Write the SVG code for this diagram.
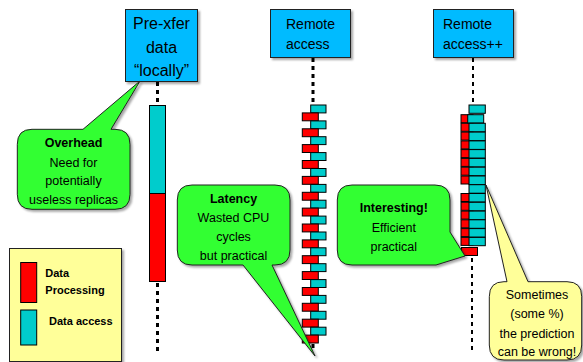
<svg xmlns="http://www.w3.org/2000/svg" width="583" height="362" viewBox="0 0 583 362">
<defs>
<filter id="sh" x="-10%" y="-10%" width="130%" height="130%">
<feDropShadow dx="2" dy="2" stdDeviation="1" flood-color="#000" flood-opacity="0.35"/>
</filter>
<style>
.hdr{fill:#00BBFF;stroke:#222;stroke-width:1;filter:url(#sh)}
.ht{font-family:"Liberation Sans",Arial,sans-serif;fill:#000}
.g{fill:#33FF33;stroke:#222;stroke-width:1;filter:url(#sh)}
.y{fill:#FFFF99;stroke:#222;stroke-width:1;filter:url(#sh)}
.t{font-family:"Liberation Sans",Arial,sans-serif;font-size:12.5px;fill:#000;text-anchor:middle}
.b{font-weight:bold}
.cy{fill:#00CCCC;stroke:#000;stroke-width:1}
.rd{fill:#FF0000;stroke:#000;stroke-width:1}
.d3{stroke:#000;stroke-width:3;stroke-dasharray:4 4;fill:none}
.d2{stroke:#000;stroke-width:2;stroke-dasharray:4 4;fill:none}
.lt{font-family:"Liberation Sans",Arial,sans-serif;font-size:11px;font-weight:bold;fill:#000}
</style>
</defs>

<g id="connectors">
<line class="d3" x1="157.5" y1="82" x2="157.5" y2="105"/>
<line class="d3" x1="157.5" y1="283" x2="157.5" y2="352"/>
<line class="d3" x1="313" y1="58" x2="313" y2="105"/>
<line class="d3" x1="313" y1="344" x2="313" y2="352"/>
<line class="d2" x1="473" y1="58" x2="473" y2="105"/>
<line class="d2" x1="472" y1="258" x2="472" y2="352"/>
</g>

<g id="header-prexfer">
<rect class="hdr" x="125.5" y="9.5" width="72" height="72"/>
<text class="ht" font-size="16" text-anchor="middle"><tspan x="161.5" y="29">Pre-xfer</tspan><tspan x="161.5" y="52.5">data</tspan><tspan x="161.5" y="76">“locally”</tspan></text>
</g>
<g id="header-remote">
<rect class="hdr" x="270.5" y="9.5" width="80" height="48"/>
<text class="ht" font-size="14"><tspan x="286" y="29">Remote</tspan><tspan x="286" y="49">access</tspan></text>
</g>
<g id="header-remotepp">
<rect class="hdr" x="433.5" y="9.5" width="80" height="48"/>
<text class="ht" font-size="14"><tspan x="443" y="29">Remote</tspan><tspan x="443" y="49">access++</tspan></text>
</g>

<g id="bar-prexfer">
<rect class="cy" x="149.5" y="105.5" width="16" height="88"/>
<rect class="rd" x="149.5" y="193.5" width="16" height="88"/>
</g>

<g id="bar-remote">
<rect class="cy" x="310.7" y="105" width="15.3" height="7.9"/>
<rect class="rd" x="302.3" y="112.9" width="16" height="7.9"/>
<rect class="cy" x="310.7" y="120.9" width="15.3" height="7.9"/>
<rect class="rd" x="302.3" y="128.8" width="16" height="7.9"/>
<rect class="cy" x="310.7" y="136.7" width="15.3" height="7.9"/>
<rect class="rd" x="302.3" y="144.6" width="16" height="7.9"/>
<rect class="cy" x="310.7" y="152.6" width="15.3" height="7.9"/>
<rect class="rd" x="302.3" y="160.5" width="16" height="7.9"/>
<rect class="cy" x="310.7" y="168.5" width="15.3" height="7.9"/>
<rect class="rd" x="302.3" y="176.4" width="16" height="7.9"/>
<rect class="cy" x="310.7" y="184.4" width="15.3" height="7.9"/>
<rect class="rd" x="302.3" y="192.3" width="16" height="7.9"/>
<rect class="cy" x="310.7" y="200.2" width="15.3" height="7.9"/>
<rect class="rd" x="302.3" y="208.1" width="16" height="7.9"/>
<rect class="cy" x="310.7" y="216.1" width="15.3" height="7.9"/>
<rect class="rd" x="302.3" y="224" width="16" height="7.9"/>
<rect class="cy" x="310.7" y="232" width="15.3" height="7.9"/>
<rect class="rd" x="302.3" y="239.9" width="16" height="7.9"/>
<rect class="cy" x="310.7" y="247.8" width="15.3" height="7.9"/>
<rect class="rd" x="302.3" y="255.7" width="16" height="7.9"/>
<rect class="cy" x="310.7" y="263.7" width="15.3" height="7.9"/>
<rect class="rd" x="302.3" y="271.6" width="16" height="7.9"/>
<rect class="cy" x="310.7" y="279.6" width="15.3" height="7.9"/>
<rect class="rd" x="302.3" y="287.5" width="16" height="7.9"/>
<rect class="cy" x="310.7" y="295.4" width="15.3" height="7.9"/>
<rect class="rd" x="302.3" y="303.3" width="16" height="7.9"/>
<rect class="cy" x="310.7" y="311.3" width="15.3" height="7.9"/>
<rect class="rd" x="302.3" y="319.2" width="16" height="7.9"/>
<rect class="cy" x="310.7" y="327.2" width="15.3" height="7.9"/>
<rect class="rd" x="302.3" y="335.1" width="16" height="7.9"/>
</g>

<g id="bar-remotepp">
<rect class="rd" x="461" y="114.7" width="12" height="8"/>
<rect class="rd" x="461" y="123.3" width="12" height="8"/>
<rect class="rd" x="461" y="132.1" width="12" height="8"/>
<rect class="rd" x="461" y="140.9" width="12" height="8"/>
<rect class="rd" x="461" y="149.6" width="12" height="8"/>
<rect class="rd" x="461" y="158.4" width="12" height="8"/>
<rect class="rd" x="461" y="167.2" width="12" height="8"/>
<rect class="rd" x="461" y="176" width="12" height="8"/>
<rect class="rd" x="461" y="193.5" width="12" height="8"/>
<rect class="rd" x="461" y="202.3" width="12" height="8"/>
<rect class="rd" x="461" y="211.1" width="12" height="8"/>
<rect class="rd" x="461" y="219.8" width="12" height="8"/>
<rect class="rd" x="461" y="228.6" width="12" height="8"/>
<rect class="rd" x="461" y="237.4" width="12" height="8"/>
<rect class="rd" x="461.5" y="247.5" width="16" height="8"/>
<rect class="cy" x="469" y="105" width="16.3" height="8.3"/>
<rect class="cy" x="467.7" y="114.7" width="16" height="8.3"/>
<rect class="cy" x="469" y="123.3" width="16.3" height="8.5"/>
<rect class="cy" x="469" y="132.1" width="16.3" height="8.5"/>
<rect class="cy" x="469" y="140.9" width="16.3" height="8.5"/>
<rect class="cy" x="469" y="149.6" width="16.3" height="8.5"/>
<rect class="cy" x="469" y="158.4" width="16.3" height="8.5"/>
<rect class="cy" x="469" y="167.2" width="16.3" height="8.5"/>
<rect class="cy" x="469" y="176" width="16.3" height="8.5"/>
<rect class="cy" x="469" y="184.7" width="16.3" height="8.5"/>
<rect class="cy" x="469" y="193.5" width="16.3" height="8.5"/>
<rect class="cy" x="469" y="202.3" width="16.3" height="8.5"/>
<rect class="cy" x="469" y="211.1" width="16.3" height="8.5"/>
<rect class="cy" x="469" y="219.8" width="16.3" height="8.5"/>
<rect class="cy" x="469" y="228.6" width="16.3" height="8.5"/>
<rect class="cy" x="469" y="237.4" width="16.3" height="8.3"/>
</g>

<g id="callout-overhead">
<path class="g" d="M32,129.3 L83,129.3 L140,81 L111,129.3 L115,129.3 Q130,129.3 130,144.3 L130,194.3 Q130,209.3 115,209.3 L32,209.3 Q17.3,209.3 17.3,194.3 L17.3,144.3 Q17.3,129.3 32,129.3 Z"/>
<text class="t"><tspan class="b" x="73.5" y="147">Overhead</tspan><tspan x="73.5" y="166.5">Need for</tspan><tspan x="73.5" y="185">potentially</tspan><tspan x="73.5" y="204">useless replicas</tspan></text>
</g>

<g id="callout-latency">
<path class="g" d="M192,185 L275,185 Q290,185 290,200 L290,250 Q290,265 275,265 L272,265 L315,356 L243,265 L192,265 Q177.3,265 177.3,250 L177.3,200 Q177.3,185 192,185 Z"/>
<text class="t"><tspan class="b" x="233.5" y="203">Latency</tspan><tspan x="233.5" y="222">Wasted CPU</tspan><tspan x="233.5" y="241">cycles</tspan><tspan x="233.5" y="260">but practical</tspan></text>
</g>

<g id="callout-interesting">
<path class="g" d="M352,185 L435,185 Q450,185 450,200 L450,232 L465,256 L436,265 L352,265 Q337.3,265 337.3,250 L337.3,200 Q337.3,185 352,185 Z"/>
<text class="t"><tspan class="b" x="393.8" y="212">Interesting!</tspan><tspan x="393.8" y="232">Efficient</tspan><tspan x="393.8" y="251">practical</tspan></text>
</g>

<g id="callout-sometimes">
<path class="y" d="M504,281.7 L507,281.7 L486,185 L528,281.7 L567,281.7 Q581.7,281.7 581.7,296.7 L581.7,345 Q581.7,360 567,360 L504,360 Q489.3,360 489.3,345 L489.3,296.7 Q489.3,281.7 504,281.7 Z"/>
<text class="t"><tspan x="537" y="299">Sometimes</tspan><tspan x="537" y="318">(some %)</tspan><tspan x="537" y="338">the prediction</tspan><tspan x="537" y="356">can be wrong!</tspan></text>
</g>

<g id="legend">
<rect x="9.5" y="248.5" width="112" height="113" fill="#FFFF99" stroke="#222" stroke-width="1" filter="url(#sh)"/>
<rect class="rd" x="20.7" y="262.5" width="16" height="40"/>
<rect class="cy" x="20.7" y="310" width="16" height="35"/>
<text class="lt"><tspan x="45.3" y="277">Data</tspan><tspan x="45.3" y="294">Processing</tspan><tspan x="49" y="325">Data access</tspan></text>
</g>
</svg>
